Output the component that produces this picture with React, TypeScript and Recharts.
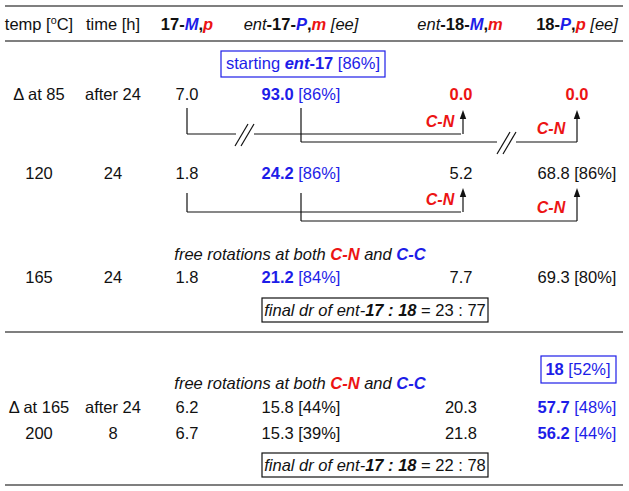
import { ComposedChart, Scatter, XAxis, YAxis, Customized } from 'recharts'

// table values
const temps = ['Δ at 85', '120', '165', 'Δ at 165', '200']
const times = ['after 24', '24', '24', 'after 24', '8']
const mp17 = [7.0, 1.8, 1.8, 6.2, 6.7]
const ent17Pm = [93.0, 24.2, 21.2, 15.8, 15.3]
const ent17ee = [86, 86, 84, 44, 39]
const ent18Mm = [0.0, 5.2, 7.7, 20.3, 21.8]
const pp18 = [0.0, 68.8, 69.3, 57.7, 56.2]
const pp18ee = [null, 86, 80, 48, 44]
const startEe = 86
const isolated18 = 52
const finalDr = [
  [23, 77],
  [22, 78],
]

const W = 629
const H = 491
const BLUE = '#1d1de8'
const RED = '#ec1414'
const INK = '#111'
const FONT = '"Liberation Sans", Arial, Helvetica, sans-serif'
const FS = 16.5

// layout
const COL_X = [39, 113, 187, 301, 461, 577]
const ROW_Y = [100, 179, 283, 413, 439]

type Part = { t: string; b?: boolean; i?: boolean; c?: string; sup?: boolean; unsup?: boolean }

function Rich({ x, y, parts, size = FS }: { x: number; y: number; parts: Part[]; size?: number }) {
  return (
    <text x={x} y={y} textAnchor="middle" fontFamily={FONT} fontSize={size} fill={INK} style={{ whiteSpace: 'pre' }}>
      {parts.map((p, k) => (
        <tspan
          key={k}
          fontWeight={p.b ? 'bold' : 'normal'}
          fontStyle={p.i ? 'italic' : 'normal'}
          fill={p.c || INK}
          fontSize={p.sup ? size * 0.65 : undefined}
          dy={p.sup ? -6 : p.unsup ? 6 : undefined}
        >
          {p.t}
        </tspan>
      ))}
    </text>
  )
}

const f1 = (v: number) => v.toFixed(1)

const headers: Part[][] = [
  [{ t: 'temp [' }, { t: 'o', sup: true }, { t: 'C]', unsup: true }],
  [{ t: 'time [h]' }],
  [{ t: '17-', b: true }, { t: 'M', b: true, i: true, c: BLUE }, { t: ',', b: true }, { t: 'p', b: true, i: true, c: RED }],
  [
    { t: 'ent', i: true },
    { t: '-17-', b: true },
    { t: 'P', b: true, i: true, c: BLUE },
    { t: ',', b: true },
    { t: 'm', b: true, i: true, c: RED },
    { t: ' [ee]', i: true },
  ],
  [
    { t: 'ent', i: true },
    { t: '-18-', b: true },
    { t: 'M', b: true, i: true, c: BLUE },
    { t: ',', b: true },
    { t: 'm', b: true, i: true, c: RED },
  ],
  [
    { t: '18-', b: true },
    { t: 'P', b: true, i: true, c: BLUE },
    { t: ',', b: true },
    { t: 'p', b: true, i: true, c: RED },
    { t: ' [ee]', i: true },
  ],
]

function cellParts(r: number, c: number): Part[] {
  if (c === 0) return [{ t: temps[r] }]
  if (c === 1) return [{ t: times[r] }]
  if (c === 2) return [{ t: f1(mp17[r]) }]
  if (c === 3) {
    const hi = r < 3
    return [
      { t: f1(ent17Pm[r]), b: hi, c: hi ? BLUE : INK },
      { t: ` [${ent17ee[r]}%]`, c: hi ? BLUE : INK },
    ]
  }
  if (c === 4) return r === 0 ? [{ t: f1(ent18Mm[r]), b: true, c: RED }] : [{ t: f1(ent18Mm[r]) }]
  const ee = pp18ee[r]
  if (ee === null) return [{ t: f1(pp18[r]), b: true, c: RED }]
  const hi = r > 2
  return [
    { t: f1(pp18[r]), b: hi, c: hi ? BLUE : INK },
    { t: ` [${ee}%]`, c: hi ? BLUE : INK },
  ]
}

const cells = temps.flatMap((_, r) =>
  COL_X.map((x, c) => ({ x, y: ROW_Y[r], parts: cellParts(r, c) })),
)

const CellShape = (props: any) => {
  const { cx, cy, payload } = props
  if (cx == null || cy == null) return null
  return <Rich x={cx} y={cy} parts={payload.parts} />
}

const freeRot: Part[] = [
  { t: 'free rotations at both ', i: true },
  { t: 'C-N', b: true, i: true, c: RED },
  { t: ' and ', i: true },
  { t: 'C-C', b: true, i: true, c: BLUE },
]

const drParts = (a: number, b: number): Part[] => [
  { t: 'final dr of ent-', i: true },
  { t: '17 : 18', b: true, i: true },
  { t: ` = ${a} : ${b}` },
]

function Arrow({ x, y0, y1 }: { x: number; y0: number; y1: number }) {
  return (
    <g>
      <line x1={x} y1={y0} x2={x} y2={y1 + 6} stroke={INK} strokeWidth={1.2} />
      <path d={`M${x},${y1} L${x - 3.2},${y1 + 9} L${x + 3.2},${y1 + 9} Z`} fill={INK} />
    </g>
  )
}

function Breaks({ cx, cy }: { cx: number; cy: number }) {
  return (
    <g stroke={INK} strokeWidth={1.2}>
      <line x1={cx - 10} y1={cy + 12} x2={cx + 3} y2={cy - 10} />
      <line x1={cx - 4} y1={cy + 12} x2={cx + 9} y2={cy - 10} />
    </g>
  )
}

// bracket + C-N arrows between two rows
function Transfer({ top, h1, h2, tip, lab1, lab2, broken }: any) {
  const [, , xa, xb, xc, xd] = COL_X
  const cn: Part[] = [{ t: 'C-N', b: true, i: true, c: RED }]
  return (
    <g>
      <g stroke={INK} strokeWidth={1.2} fill="none">
        <line x1={xa} y1={top} x2={xa} y2={h1} />
        {broken ? (
          <>
            <line x1={xa} y1={h1} x2={236} y2={h1} />
            <line x1={254} y1={h1} x2={xb} y2={h1} />
          </>
        ) : (
          <line x1={xa} y1={h1} x2={xb} y2={h1} />
        )}
        <line x1={xb} y1={top} x2={xb} y2={h2} />
        <line x1={xb} y1={h1} x2={xc} y2={h1} />
        {broken ? (
          <>
            <line x1={xb} y1={h2} x2={497} y2={h2} />
            <line x1={516} y1={h2} x2={xd} y2={h2} />
          </>
        ) : (
          <line x1={xb} y1={h2} x2={xd} y2={h2} />
        )}
      </g>
      {broken && <Breaks cx={245} cy={h1} />}
      {broken && <Breaks cx={507} cy={h2} />}
      <Arrow x={xc + 2} y0={h1} y1={tip} />
      <Arrow x={xd} y0={h2} y1={tip} />
      <Rich x={440} y={lab1} parts={cn} size={16} />
      <Rich x={551} y={lab2} parts={cn} size={16} />
    </g>
  )
}

const Scheme = () => (
  <g>
    {[6, 41, 332, 485].map((y) => (
      <line key={y} x1={5} x2={623} y1={y} y2={y} stroke="#555" strokeWidth={1.6} />
    ))}
    {headers.map((p, c) => (
      <Rich key={c} x={c === 4 ? COL_X[c] - 1 : COL_X[c]} y={30} parts={p} />
    ))}
    <rect x={221} y={51} width={164} height={26} fill="none" stroke={BLUE} strokeWidth={1.2} />
    <Rich
      x={303}
      y={69}
      parts={[
        { t: 'starting ', c: BLUE },
        { t: 'ent', b: true, i: true, c: BLUE },
        { t: '-17', b: true, c: BLUE },
        { t: ` [${startEe}%]`, c: BLUE },
      ]}
    />
    <Transfer top={108} h1={134} h2={142} tip={110} lab1={127} lab2={134} broken />
    <Transfer top={193} h1={212} h2={221} tip={188} lab1={205} lab2={213} broken={false} />
    <Rich x={300} y={260} parts={freeRot} />
    <rect x={262} y={298} width={226} height={24} fill="none" stroke={INK} strokeWidth={1.2} />
    <Rich x={375} y={316} parts={drParts(finalDr[0][0], finalDr[0][1])} />
    <rect x={541} y={356} width={75} height={27} fill="none" stroke={BLUE} strokeWidth={1.2} />
    <Rich
      x={578}
      y={375}
      parts={[
        { t: '18', b: true, c: BLUE },
        { t: ` [${isolated18}%]`, c: BLUE },
      ]}
    />
    <Rich x={300} y={389} parts={freeRot} />
    <rect x={262} y={453} width={226} height={24} fill="none" stroke={INK} strokeWidth={1.2} />
    <Rich x={375} y={471} parts={drParts(finalDr[1][0], finalDr[1][1])} />
  </g>
)

export default function App() {
  return (
    <div style={{ position: 'absolute', left: 0, top: 0, width: W, height: H, background: '#fff' }}>
      <ComposedChart width={W} height={H} margin={{ top: 0, right: 0, bottom: 0, left: 0 }}>
        <XAxis type="number" dataKey="x" domain={[0, W]} hide />
        <YAxis type="number" dataKey="y" domain={[0, H]} reversed hide />
        <Customized component={Scheme} />
        <Scatter data={cells} dataKey="y" isAnimationActive={false} shape={CellShape} />
      </ComposedChart>
    </div>
  )
}
